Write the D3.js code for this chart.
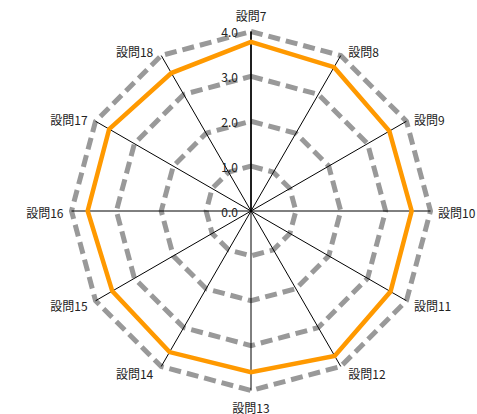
<!DOCTYPE html>
<html><head><meta charset="utf-8">
<script src="https://cdn.jsdelivr.net/npm/d3@7"></script>
<style>html,body{margin:0;padding:0;background:#fff;}svg{display:block;}</style>
</head><body>
<svg id="chart" width="477" height="414"></svg>
<script>
const categories = ["設問7","設問8","設問9","設問10","設問11","設問12","設問13","設問14","設問15","設問16","設問17","設問18"];
const values = [3.77,3.70,3.56,3.58,3.59,3.73,3.59,3.63,3.57,3.64,3.65,3.55];
const ticks = [0,1,2,3,4];
const tickLabels = ["0.0","1.0","2.0","3.0","4.0"];

const svg = d3.select("#chart");
const cx = 251, cy = 211, R = 179.5;
const r = d3.scaleLinear().domain([0,4]).range([0,R]);
const n = categories.length;
const ang = i => i * 2 * Math.PI / n;
const pt = (i, v) => [cx + r(v) * Math.sin(ang(i)), cy - r(v) * Math.cos(ang(i))];

const g = svg.append("g");
// grid rings
ticks.filter(t => t > 0).forEach(t => {
  g.append("path")
    .attr("d", d3.line()(categories.map((c,i) => pt(i,t))) + "Z")
    .attr("fill","none").attr("stroke","#999").attr("stroke-width",5)
    .attr("stroke-dasharray","12,6");
});
// spokes
categories.forEach((c,i) => {
  const [x,y] = pt(i,4);
  g.append("line").attr("x1",cx).attr("y1",cy).attr("x2",x).attr("y2",y)
    .attr("stroke","#000").attr("stroke-width",1);
});
// scale axis
g.append("line").attr("x1",cx).attr("y1",cy).attr("x2",cx).attr("y2",cy - r(4))
  .attr("stroke","#000").attr("stroke-width",1.5);
// data line
g.append("path")
  .attr("d", d3.line()(values.map((v,i) => pt(i,v))) + "Z")
  .attr("fill","none").attr("stroke","#FF9900").attr("stroke-width",4.5)
  .attr("stroke-linejoin","miter");
// tick labels
ticks.forEach((t,k) => {
  g.append("text").attr("x", cx - 13).attr("y", cy - r(t))
    .attr("text-anchor","end").attr("dominant-baseline","central")
    .attr("font-family","'Noto Sans CJK JP', sans-serif").attr("font-size",12)
    .attr("fill","#222").text(tickLabels[k]);
});
// category labels
categories.forEach((c,i) => {
  const [x,y] = pt(i,4);
  const s = Math.sin(ang(i)), co = Math.cos(ang(i));
  let tx, ty, anchor;
  if (Math.abs(s) < 0.01) {
    tx = cx; anchor = "middle"; ty = co > 0 ? y - 16 : y + 16.5;
  } else {
    anchor = s > 0 ? "start" : "end";
    tx = x + (s > 0 ? 7.5 : -8);
    ty = y - co * 6 + 1.5;
  }
  g.append("text").attr("x", tx).attr("y", ty)
    .attr("text-anchor", anchor).attr("dominant-baseline","central")
    .attr("font-family","'Noto Sans CJK JP', sans-serif").attr("font-size",12)
    .attr("fill","#222").text(c);
});
</script>
</body></html>
